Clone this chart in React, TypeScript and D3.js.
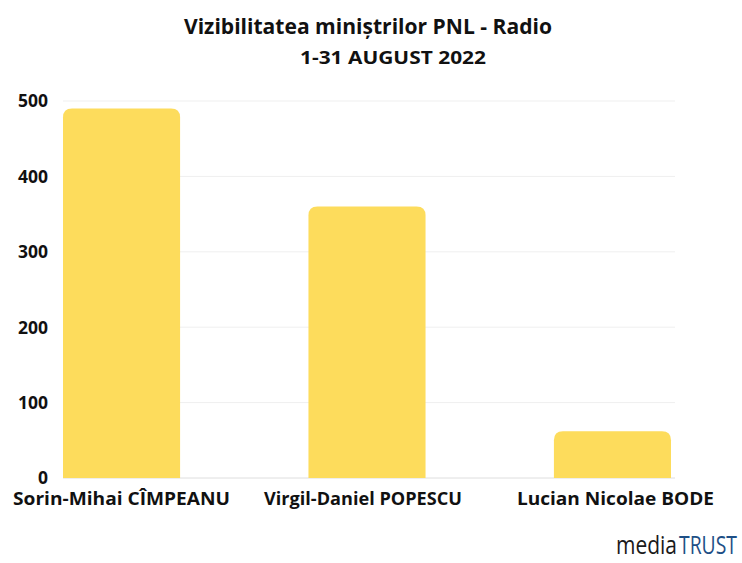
import React from "react";
import * as d3 from "d3";

const ministers = ["Sorin-Mihai CÎMPEANU", "Virgil-Daniel POPESCU", "Lucian Nicolae BODE"];
const mentions = [490, 360, 62];
const yTicks = [0, 100, 200, 300, 400, 500];
// rendered widths of the category labels in the reference
const labelWidths = [217, 198, 197];

const title = "Vizibilitatea miniștrilor PNL - Radio";
const subtitle = "1-31 AUGUST 2022";

const W = 742;
const H = 563;
const font = "'Open Sans', sans-serif";
const narrow = "'Liberation Sans Narrow', 'Open Sans', sans-serif";

// top-rounded bar path
const barPath = (x: number, y: number, w: number, h: number, r: number) => {
  const rr = Math.min(r, h / 2, w / 2);
  return `M${x},${y + h}V${y + rr}Q${x},${y} ${x + rr},${y}H${x + w - rr}Q${x + w},${y} ${x + w},${y + rr}V${y + h}Z`;
};

export default function App() {
  const x = d3.scaleBand<string>()
    .domain(ministers)
    .range([63, 671])
    .paddingInner(0.523)
    .paddingOuter(0);

  const y = d3.scaleLinear().domain([0, 500]).range([478, 101]);

  return (
    <svg
      width={W}
      height={H}
      style={{ position: "absolute", left: 0, top: 0, background: "#fff", display: "block" }}
    >
      <text x={368} y={34} textAnchor="middle" fontFamily={font} fontWeight={700}
        fontSize={22} fill="#111" textLength={368} lengthAdjust="spacingAndGlyphs">
        {title}
      </text>
      <text x={393} y={64} textAnchor="middle" fontFamily={font} fontWeight={700}
        fontSize={17} fill="#111" textLength={186} lengthAdjust="spacingAndGlyphs">
        {subtitle}
      </text>

      {/* grid */}
      {yTicks.map((t) => (
        <g key={t}>
          <line x1={63} x2={675} y1={y(t)} y2={y(t)}
            stroke={t === 0 ? "#dedede" : "#efefef"} strokeWidth={1} />
          <text x={48} y={y(t)} dy="0.36em" textAnchor="end" fontFamily={font}
            fontWeight={700} fontSize={17.5} fill="#111">
            {t}
          </text>
        </g>
      ))}

      {/* bars */}
      {ministers.map((m, i) => (
        <path key={m}
          d={barPath(x(m)!, y(mentions[i]), x.bandwidth(), y(0) - y(mentions[i]), 9)}
          fill="#FDDC5C" />
      ))}

      {/* category labels */}
      {ministers.map((m, i) => (
        <text key={m} x={x(m)! + x.bandwidth() / 2 + [0, -4, 3][i]} y={505} textAnchor="middle"
          fontFamily={font} fontWeight={700} fontSize={17.5} fill="#111"
          textLength={labelWidths[i]} lengthAdjust="spacingAndGlyphs">
          {m}
        </text>
      ))}

      {/* logo */}
      <text x={616} y={554} fontFamily={narrow} fontSize={26} fill="#1a1a1a"
        textLength={61} lengthAdjust="spacingAndGlyphs">media</text>
      <text x={679} y={554} fontFamily={narrow} fontSize={26} fill="#1e4f86"
        textLength={58} lengthAdjust="spacingAndGlyphs">TRUST</text>
    </svg>
  );
}
